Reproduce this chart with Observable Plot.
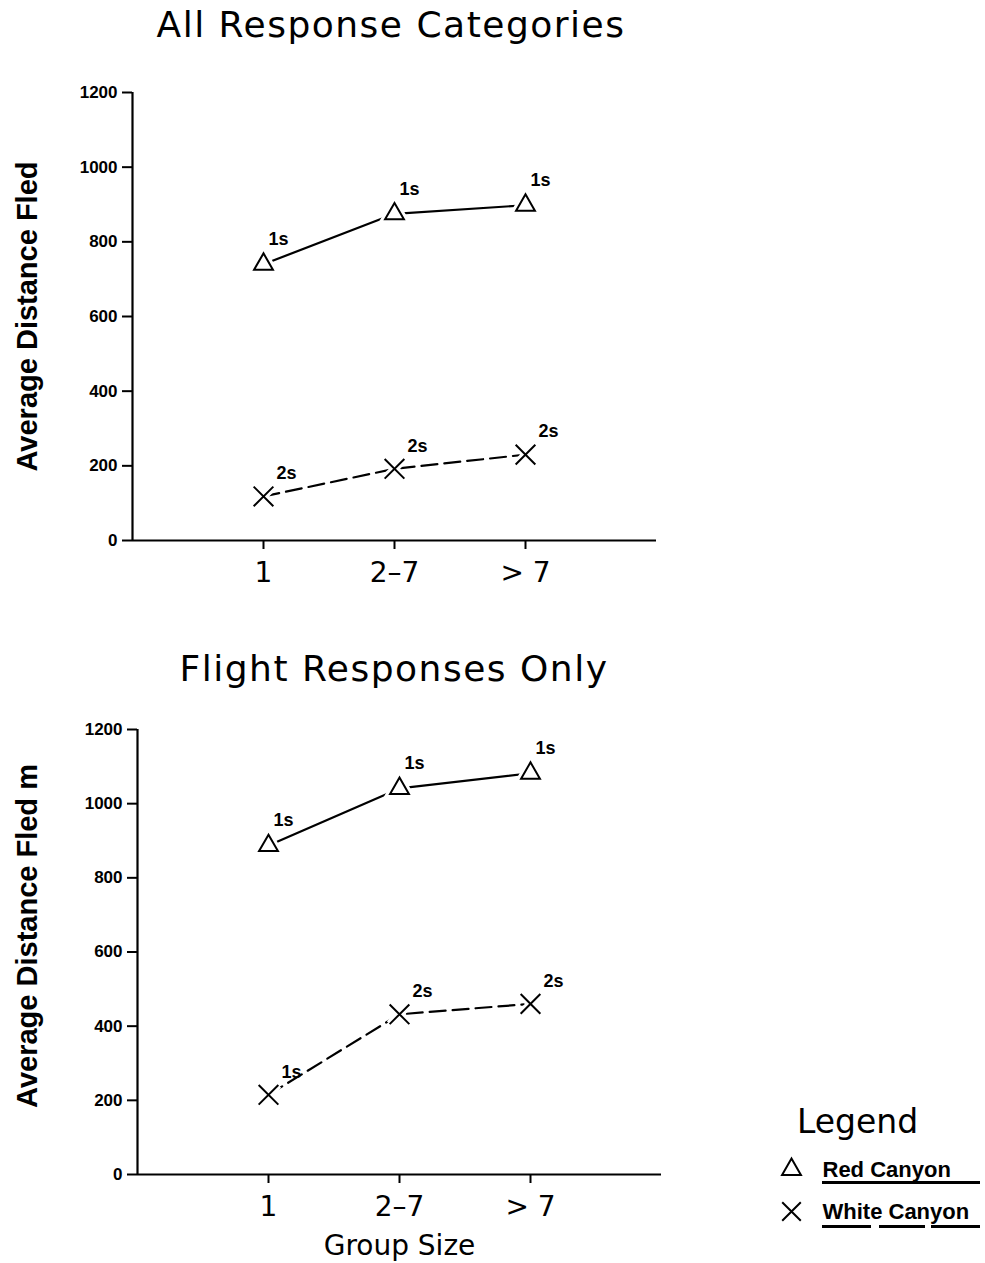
<!DOCTYPE html>
<html><head><meta charset="utf-8">
<script src="https://cdn.jsdelivr.net/npm/d3@7"></script>
<script src="https://cdn.jsdelivr.net/npm/@observablehq/plot@0.6"></script>
<style>
body{margin:0;background:#fff;}
#wrap{position:relative;width:985px;height:1263px;overflow:hidden;font-family:"DejaVu Sans",sans-serif;color:#000;background:#fff}
.abs{position:absolute}
.title{position:absolute;font-size:36px;letter-spacing:1.5px;line-height:1;text-align:center;white-space:nowrap}
.ul{position:absolute;height:3px;background:#000}
</style></head><body>
<div id="wrap">
<div class="title" style="left:141px;top:7px;width:500px">All Response Categories</div>
<div class="abs" id="p1" style="left:0;top:60px"></div>
<div class="title" style="left:144px;top:651px;width:500px">Flight Responses Only</div>
<div class="abs" id="p2" style="left:0;top:700px"></div>
<div class="abs" style="left:797px;top:1105px;font-size:33px;line-height:1">Legend</div>
<div class="abs" id="lg" style="left:770px;top:1150px"></div>
<div class="ul" style="left:822px;top:1181px;width:158px"></div>
<div class="ul" style="left:822px;top:1225px;width:49px"></div>
<div class="ul" style="left:879px;top:1225px;width:46px"></div>
<div class="ul" style="left:931px;top:1225px;width:49px"></div>
</div>
<script>
// ---- data ----
const groups = ["1", "2–7", "> 7"];
const series = ["Red Canyon", "White Canyon"];
const yTicks = [0, 200, 400, 600, 800, 1000, 1200];

const allRed = [740, 875, 898];
const allWhite = [118, 192, 230];
const allRedSig = ["1s", "1s", "1s"];
const allWhiteSig = ["2s", "2s", "2s"];

const flightRed = [887, 1041, 1082];
const flightWhite = [215, 432, 460];
const flightRedSig = ["1s", "1s", "1s"];
const flightWhiteSig = ["1s", "2s", "2s"];

const rows = (vals, sig) => vals.map((v, i) => ({g: i + 1, v, sig: sig[i]}));

function panel(o) {
  const red = rows(o.red, o.redSig);
  const white = rows(o.white, o.whiteSig);
  const marks = [
    Plot.axisX({ticks: [1, 2, 3], tickFormat: d => groups[d - 1], tickSize: 9, tickPadding: 13,
      fontSize: 28, fontFamily: "DejaVu Sans", strokeWidth: 2, label: null}),
    Plot.axisY({ticks: yTicks, tickFormat: d => String(d), tickSize: 10, tickPadding: 5, fontSize: 17, fontWeight: "bold",
      strokeWidth: 2, label: null}),
    Plot.ruleX([0], {strokeWidth: 2.2}),
    Plot.ruleY([0], {strokeWidth: 2.2}),
    Plot.line(red, {x: "g", y: "v", stroke: "black", strokeWidth: 2.2}),
    Plot.line(white, {x: "g", y: "v", stroke: "black", strokeWidth: 2.2, strokeDasharray: "16,7"}),
    Plot.dot(red, {x: "g", y: "v", symbol: "triangle", r: 7, fill: "white", stroke: "white", strokeWidth: 8}),
    Plot.dot(white, {x: "g", y: "v", symbol: "times", r: 9, stroke: "white", strokeWidth: 8}),
    Plot.dot(red, {x: "g", y: "v", symbol: "triangle", r: 7, fill: "none", stroke: "black", strokeWidth: 2}),
    Plot.dot(white, {x: "g", y: "v", symbol: "times", r: 9, stroke: "black", strokeWidth: 2}),
    Plot.text(red, {x: "g", y: "v", text: "sig", dx: 5, dy: -25, textAnchor: "start", fontSize: 18, fontWeight: "bold"}),
    Plot.text(white, {x: "g", y: "v", text: "sig", dx: 13, dy: -23, textAnchor: "start", fontSize: 18, fontWeight: "bold"}),
    Plot.text([o.ylabel], {text: d => d, frameAnchor: "left", textAnchor: "middle", rotate: -90, dx: o.ylabelDx, dy: o.ylabelDy,
      fontSize: 29, fontWeight: "bold"})
  ];
  if (o.xlabel) marks.push(Plot.text([o.xlabel], {text: d => d, frameAnchor: "bottom", dy: 80,
      fontSize: 28, fontFamily: "DejaVu Sans"}));
  return Plot.plot({
    width: o.width, height: o.height,
    marginLeft: o.marginLeft, marginRight: 44, marginTop: o.marginTop, marginBottom: o.marginBottom,
    x: {type: "linear", domain: [0, 4]},
    y: {domain: [0, 1200]},
    style: {fontFamily: "Liberation Sans", color: "black", background: "white", overflow: "visible"},
    marks
  });
}

document.getElementById("p1").append(panel({
  red: allRed, white: allWhite, redSig: allRedSig, whiteSig: allWhiteSig,
  ylabel: "Average Distance Fled", ylabelDx: -105, ylabelDy: 0,
  width: 700, height: 540, marginLeft: 132, marginTop: 32, marginBottom: 60
}));
document.getElementById("p2").append(panel({
  red: flightRed, white: flightWhite, redSig: flightRedSig, whiteSig: flightWhiteSig,
  ylabel: "Average Distance Fled m", ylabelDx: -110, ylabelDy: -16, xlabel: "Group Size",
  width: 705, height: 562, marginLeft: 137, marginTop: 29, marginBottom: 88
}));

document.getElementById("lg").append(Plot.plot({
  width: 215, height: 80, marginTop: 19, marginBottom: 19, marginLeft: 0, marginRight: 0,
  y: {type: "point", domain: series, padding: 0, axis: null},
  style: {fontFamily: "Liberation Sans", color: "black", background: "transparent", overflow: "visible"},
  marks: [
    Plot.dot([series[0]], {y: d => d, symbol: "triangle", frameAnchor: "left", dx: 21, r: 7, fill: "none", stroke: "black", strokeWidth: 2}),
    Plot.dot([series[1]], {y: d => d, symbol: "times", frameAnchor: "left", dx: 21, r: 8.5, stroke: "black", strokeWidth: 2}),
    Plot.text(series, {y: d => d, text: d => d, frameAnchor: "left", dx: 52, textAnchor: "start", fontSize: 22, fontWeight: "bold"})
  ]
}));
</script>
</body></html>
